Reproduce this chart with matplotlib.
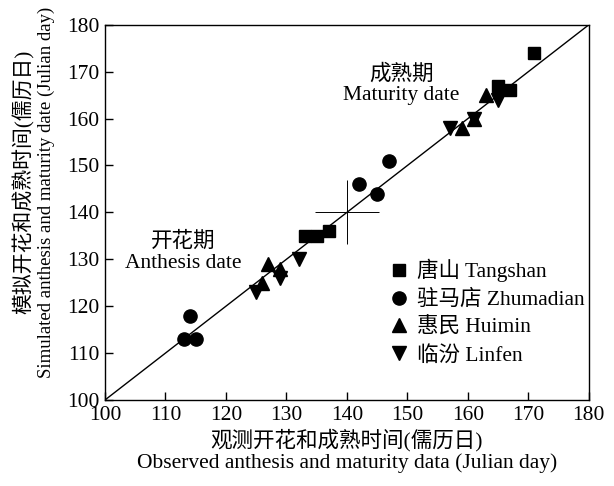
import matplotlib
matplotlib.use("Agg")
import matplotlib.pyplot as plt

plt.rcParams['font.family'] = ['Liberation Serif', 'Noto Sans CJK SC']
plt.rcParams['font.size'] = 15.5

# Data (observed, simulated) Julian days
tangshan_obs = [133, 135, 137, 165, 167, 171]
tangshan_sim = [135, 135, 136, 167, 166, 174]
zhumadian_obs = [113, 114, 115, 142, 145, 147]
zhumadian_sim = [113, 118, 113, 146, 144, 151]
huimin_obs = [126, 127, 129, 159, 161, 163]
huimin_sim = [125, 129, 128, 158, 160, 165]
linfen_obs = [125, 129, 132, 157, 161, 165]
linfen_sim = [123, 126, 130, 158, 160, 164]
center_point = [140, 140]
line_range = [100, 180]
ticks = [100, 110, 120, 130, 140, 150, 160, 170, 180]

fig = plt.figure(figsize=(6.14, 4.86), dpi=100)
ax = fig.add_axes([0.171, 0.177, 0.788, 0.772])

ax.plot(line_range, line_range, color='black', lw=1.0, zorder=1)
ax.plot([center_point[0]], [center_point[1]], marker='+', color='black',
        markersize=46, markeredgewidth=0.7, linestyle='none', zorder=1)

ax.plot(tangshan_obs, tangshan_sim, 's', color='black', ms=8.5, ls='none', label='唐山 Tangshan', zorder=3)
ax.plot(zhumadian_obs, zhumadian_sim, 'o', color='black', ms=9.5, ls='none', label='驻马店 Zhumadian', zorder=3)
ax.plot(huimin_obs, huimin_sim, '^', color='black', ms=10, ls='none', label='惠民 Huimin', zorder=3)
ax.plot(linfen_obs, linfen_sim, 'v', color='black', ms=10, ls='none', label='临汾 Linfen', zorder=3)

ax.set_xlim(100, 180)
ax.set_ylim(100, 180)
ax.set_xticks(ticks)
ax.set_yticks(ticks)
ax.tick_params(direction='in', length=6, width=1, top=False, right=False, labelsize=15.5, pad=4)
for s in ax.spines.values():
    s.set_linewidth(1.0)

ax.text(149, 167.3, '成熟期\nMaturity date', ha='center', va='center', fontsize=15.5, linespacing=1.1)
ax.text(112.9, 131.5, '开花期\nAnthesis date', ha='center', va='center', fontsize=15.5, linespacing=1.1)

ax.set_xlabel('观测开花和成熟时间(儒历日)\nObserved anthesis and maturity data (Julian day)',
              fontsize=15.5, linespacing=1.1, labelpad=3)

fig.text(0.039, 0.626, '模拟开花和成熟时间(儒历日)', rotation=90, ha='center', va='center', fontsize=15)
fig.text(0.075, 0.605, 'Simulated anthesis and maturity date (Julian day)', rotation=90,
         ha='center', va='center', fontsize=13.5)

ax.legend(loc='upper left', bbox_to_anchor=(0.585, 0.376), frameon=False, handletextpad=0.35,
          handlelength=1.0, labelspacing=0.35, fontsize=15.5, borderaxespad=0, borderpad=0)

fig.savefig('out.png', dpi=100)
